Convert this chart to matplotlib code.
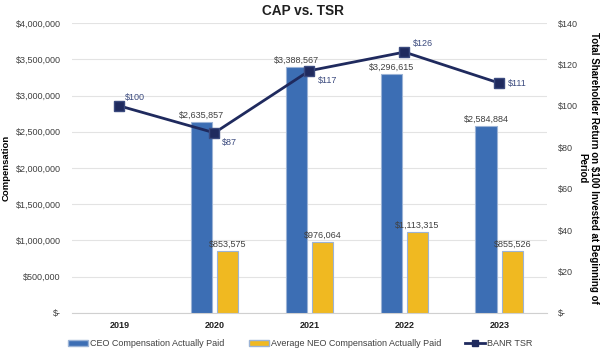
import matplotlib
matplotlib.use("Agg")
import matplotlib.pyplot as plt
import numpy as np
from matplotlib.ticker import FuncFormatter
from matplotlib.patches import Patch
from matplotlib.lines import Line2D

plt.rcParams['font.family'] = ['Liberation Sans', 'DejaVu Sans']

years = ["2019", "2020", "2021", "2022", "2023"]
ceo_cap = [None, 2635857, 3388567, 3296615, 2584884]
neo_cap = [None, 853575, 976064, 1113315, 855526]
tsr = [100, 87, 117, 126, 111]

ceo_color = "#3C6EB4"
neo_color = "#F0B921"
tsr_color = "#1F2A5E"
edge_color = "#9BB3D6"
label_color = "#404040"
tsr_label_color = "#3B4A7E"

fig = plt.figure(figsize=(6.05, 3.5), dpi=100)
ax = fig.add_axes([0.119, 0.106, 0.785, 0.828])
ax2 = ax.twinx()

x = np.arange(len(years))
w = 0.23
off = 0.137

for i in range(len(years)):
    if ceo_cap[i] is not None:
        ax.bar(x[i] - off, ceo_cap[i], width=w, color=ceo_color, edgecolor=edge_color, linewidth=0.8, zorder=3)
        ax.text(x[i] - off, ceo_cap[i] + 30000, f"${ceo_cap[i]:,}", ha="center", va="bottom",
                fontsize=6.5, color=label_color, zorder=5)
    if neo_cap[i] is not None:
        ax.bar(x[i] + off, neo_cap[i], width=w, color=neo_color, edgecolor=edge_color, linewidth=0.8, zorder=3)
        ax.text(x[i] + off, neo_cap[i] + 30000, f"${neo_cap[i]:,}", ha="center", va="bottom",
                fontsize=6.5, color=label_color, zorder=5)

ax.set_xlim(-0.5, len(years) - 0.5)
ax.set_ylim(0, 4000000)
ax.set_yticks(np.arange(0, 4000001, 500000))
ax.yaxis.set_major_formatter(FuncFormatter(lambda v, p: "$-" if v == 0 else f"${v:,.0f}"))
ax.set_xticks(x)
ax.set_xticklabels(years, fontweight="bold")
ax.grid(axis="y", color="#E3E3E3", linewidth=0.8, zorder=0)
ax.set_axisbelow(True)
for s in ["top", "left", "right"]:
    ax.spines[s].set_visible(False)
ax.spines["bottom"].set_color("#D0D0D0")
ax.tick_params(axis="both", length=0, labelsize=6.5, colors="#404040")
ax.tick_params(axis="x", pad=6, labelsize=6.5, colors="#202020")
ax.tick_params(axis="y", pad=8)
ax.set_ylabel("Compensation", fontsize=6.8, fontweight="bold", labelpad=4)

ax2.plot(x, tsr, color=tsr_color, linewidth=2, marker="s", markersize=7,
         markerfacecolor=tsr_color, markeredgecolor="#3B4A7E", zorder=6)
ax2.set_ylim(0, 140)
ax2.set_yticks(np.arange(0, 141, 20))
ax2.yaxis.set_major_formatter(FuncFormatter(lambda v, p: "$-" if v == 0 else f"${v:.0f}"))
ax2.tick_params(axis="y", length=0, labelsize=6.5, colors="#404040", pad=8)
for s in ["top", "left", "right", "bottom"]:
    ax2.spines[s].set_visible(False)
ax2.set_ylabel("Total Shareholder Return on $100 Invested at Beginning of\nPeriod",
               fontsize=7, fontweight="bold", rotation=270, labelpad=15, linespacing=1.2)

tsr_offsets = [(4, 3, "left", "bottom"), (5, -4, "left", "top"), (6, -4, "left", "top"),
               (6, 3, "left", "bottom"), (6, 0, "left", "center")]
for i, v in enumerate(tsr):
    dx, dy, ha, va = tsr_offsets[i]
    ax2.annotate(f"${v}", (x[i], v), xytext=(dx, dy), textcoords="offset points",
                 ha=ha, va=va, fontsize=6.5, color=tsr_label_color, zorder=7)

handles = [Patch(facecolor=ceo_color, edgecolor=edge_color),
           Patch(facecolor=neo_color, edgecolor=edge_color),
           Line2D([0], [0], color=tsr_color, linewidth=2, marker="s", markersize=4)]
labels = ["CEO Compensation Actually Paid", "Average NEO Compensation Actually Paid", "BANR TSR"]
fig.legend(handles, labels, loc="center", bbox_to_anchor=(0.4965, 1 - 344 / 350), ncol=3,
           frameon=False, fontsize=6.5, handlelength=2.2, handleheight=0.6,
           columnspacing=2.7, handletextpad=0.2, labelcolor="#404040",
           borderpad=0, borderaxespad=0)

fig.text(0.5, 1 - 11 / 350, "CAP vs. TSR", ha="center", va="center", fontsize=9.8,
         fontweight="bold", color="#202020")

fig.savefig("out.png", dpi=100)
